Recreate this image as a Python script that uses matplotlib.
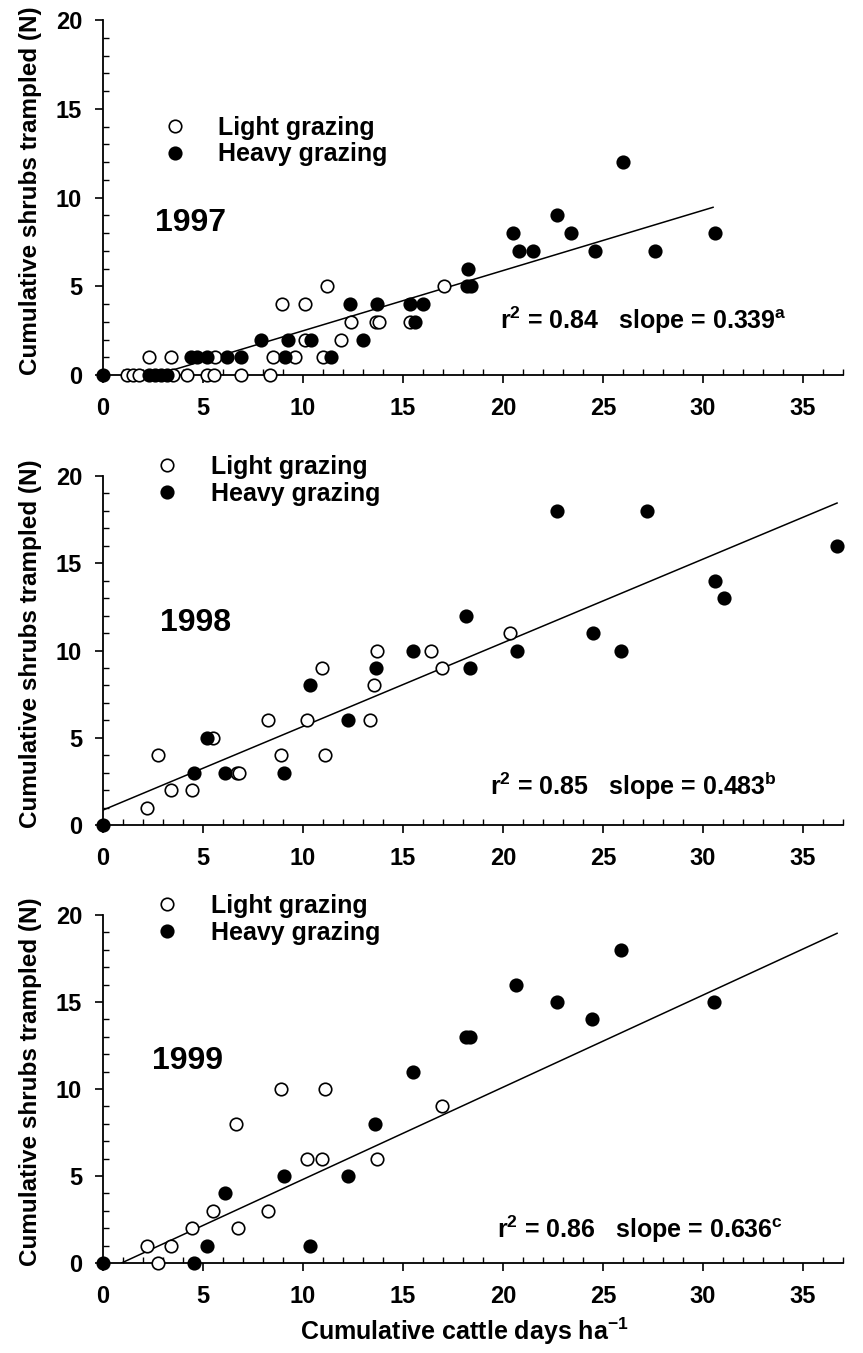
import matplotlib
matplotlib.use("Agg")
import matplotlib.pyplot as plt
from matplotlib.ticker import MultipleLocator

plt.rcParams['font.family'] = ['Liberation Sans', 'DejaVu Sans']
plt.rcParams['font.weight'] = 'bold'
plt.rcParams['mathtext.fontset'] = 'custom'
plt.rcParams['mathtext.rm'] = 'Liberation Sans:bold'
plt.rcParams['mathtext.it'] = 'Liberation Sans:bold'
plt.rcParams['mathtext.bf'] = 'Liberation Sans:bold'
plt.rcParams['axes.linewidth'] = 1.3

# --- data ---
years = ['1997', '1998', '1999']
r2_values = ['0.84', '0.85', '0.86']
slopes = ['0.339', '0.483', '0.636']
slope_letters = ['a', 'b', 'c']

# 1997
light_1997_x = [1.2, 1.5, 1.8, 3.5, 4.2, 5.2, 5.55, 6.9, 8.35,
                2.3, 3.4, 5.6, 8.5, 9.6, 11.0,
                10.1, 11.9,
                12.4, 13.65, 13.8, 15.35,
                8.93, 10.1,
                11.2, 17.05]
light_1997_y = [0, 0, 0, 0, 0, 0, 0, 0, 0,
                1, 1, 1, 1, 1, 1,
                2, 2,
                3, 3, 3, 3,
                4, 4,
                5, 5]
heavy_1997_x = [0, 2.3, 2.6, 2.9, 3.2,
                4.4, 4.7, 5.2, 6.2, 6.9, 9.1, 11.4,
                7.9, 9.25, 10.4, 13.0,
                15.6,
                12.35, 13.7, 15.35, 16.0,
                18.2, 18.4,
                18.25,
                20.8, 21.5, 24.6, 27.6,
                20.5, 23.4, 30.6,
                22.7,
                26.0]
heavy_1997_y = [0, 0, 0, 0, 0,
                1, 1, 1, 1, 1, 1, 1,
                2, 2, 2, 2,
                3,
                4, 4, 4, 4,
                5, 5,
                6,
                7, 7, 7, 7,
                8, 8, 8,
                9,
                12]
fit_1997_x = [2.65, 30.5]
fit_1997_y = [0.0, 9.45]

# 1998
light_1998_x = [2.2, 2.75, 3.38, 4.43, 5.48, 6.7, 6.8, 8.23, 8.88, 10.18,
                10.97, 11.1, 13.35, 13.55, 13.7, 16.4, 16.95, 20.35]
light_1998_y = [1, 4, 2, 2, 5, 3, 3, 6, 4, 6,
                9, 4, 6, 8, 10, 10, 9, 11]
heavy_1998_x = [0, 4.57, 5.18, 6.1, 9.07, 10.33, 12.23, 13.63, 15.5, 18.15,
                18.35, 20.7, 22.7, 24.5, 25.9, 27.2, 30.6, 31.05, 36.7]
heavy_1998_y = [0, 3, 5, 3, 3, 8, 6, 9, 10, 12,
                9, 10, 18, 11, 10, 18, 14, 13, 16]
fit_1998_x = [0.0, 36.7]
fit_1998_y = [0.86, 18.45]

# 1999
light_1999_x = [2.2, 2.73, 3.38, 4.43, 5.48, 6.77, 6.65, 8.23, 8.88, 10.18,
                10.97, 11.1, 13.7, 16.95]
light_1999_y = [1, 0, 1, 2, 3, 2, 8, 3, 10, 6,
                6, 10, 6, 9]
heavy_1999_x = [0, 4.57, 5.18, 6.1, 9.07, 10.33, 12.23, 13.6, 15.5, 18.15,
                18.35, 20.67, 22.7, 24.47, 25.9, 30.57]
heavy_1999_y = [0, 0, 1, 4, 5, 1, 5, 8, 11, 13,
                13, 16, 15, 14, 18, 15]
fit_1999_x = [0.92, 36.7]
fit_1999_y = [0.0, 18.95]

panels = [
    (light_1997_x, light_1997_y, heavy_1997_x, heavy_1997_y, fit_1997_x, fit_1997_y),
    (light_1998_x, light_1998_y, heavy_1998_x, heavy_1998_y, fit_1998_x, fit_1998_y),
    (light_1999_x, light_1999_y, heavy_1999_x, heavy_1999_y, fit_1999_x, fit_1999_y),
]

# --- layout (figure / axes fractions) ---
axes_rects = [[0.1194, 0.7228, 0.8575, 0.2624],
              [0.1194, 0.3902, 0.8575, 0.2580],
              [0.1194, 0.0665, 0.8575, 0.2572]]
legend_anchor = [(0.080, 0.730), (0.070, 1.060), (0.070, 1.060)]
year_pos = [(0.070, 0.428), (0.077, 0.580), (0.066, 0.580)]
stats_pos = [(0.537, 0.130), (0.523, 0.086), (0.532, 0.072)]

fig = plt.figure(figsize=(8.63, 13.53), dpi=100)

for i, (lx, ly, hx, hy, fx, fy) in enumerate(panels):
    ax = fig.add_axes(axes_rects[i])
    ax.plot(fx, fy, color='black', lw=1.1, zorder=2)
    light, = ax.plot(lx, ly, 'o', ms=9, mfc='white', mec='black', mew=1.2,
                     clip_on=False, zorder=3)
    heavy, = ax.plot(hx, hy, 'o', ms=9, mfc='black', mec='black', mew=1.2,
                     clip_on=False, zorder=4)

    ax.set_xlim(0, 37)
    ax.set_ylim(0, 20)
    ax.spines['top'].set_visible(False)
    ax.spines['right'].set_visible(False)

    ax.xaxis.set_major_locator(MultipleLocator(5))
    ax.xaxis.set_minor_locator(MultipleLocator(1))
    ax.yaxis.set_major_locator(MultipleLocator(5))
    ax.yaxis.set_minor_locator(MultipleLocator(1))
    ax.tick_params(axis='both', which='major', direction='out', length=6,
                   width=1.2, labelsize=17)
    ax.tick_params(axis='both', which='minor', direction='in', length=4,
                   width=1.0)
    ax.tick_params(axis='x', which='major', pad=10)
    ax.tick_params(axis='y', which='major', pad=9)

    ax.set_ylabel('Cumulative shrubs trampled (N)', fontsize=17.5,
                  fontweight='bold')
    ax.yaxis.set_label_coords(-0.082, 0.52)

    ax.legend([light, heavy], ['Light grazing', 'Heavy grazing'],
              loc='upper left', bbox_to_anchor=legend_anchor[i],
              frameon=False, fontsize=18, numpoints=1, handlelength=1.0,
              handletextpad=1.25, labelspacing=0.1, borderpad=0,
              borderaxespad=0)

    ax.text(year_pos[i][0], year_pos[i][1], years[i], transform=ax.transAxes,
            fontsize=23, fontweight='bold', ha='left', va='center')

    stats = (r'r$^{2}$ = ' + r2_values[i] + '   slope = ' + slopes[i]
             + r'$^{' + slope_letters[i] + '}$')
    ax.text(stats_pos[i][0], stats_pos[i][1], stats, transform=ax.transAxes,
            fontsize=18, fontweight='bold', ha='left', va='baseline')

    if i == 2:
        ax.set_xlabel('Cumulative cattle days ha$^{-1}$', fontsize=18,
                      fontweight='bold')
        ax.xaxis.set_label_coords(0.488, -0.150)

fig.savefig('out.png', dpi=100, facecolor='white')
